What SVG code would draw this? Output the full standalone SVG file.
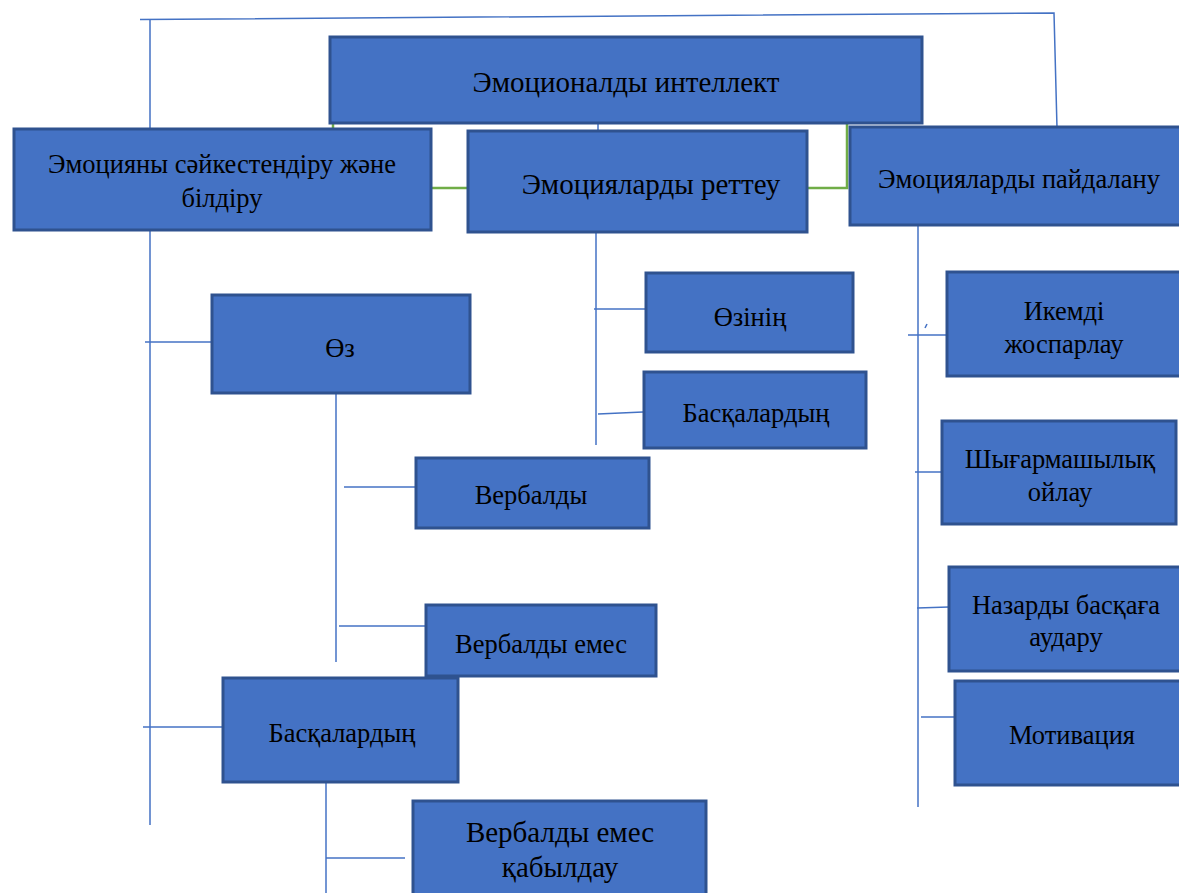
<svg xmlns="http://www.w3.org/2000/svg" width="1179" height="893" viewBox="0 0 1179 893">
<style>
.box{fill:#4472C4;stroke:#2F528F;stroke-width:3}
.t{font-family:"Liberation Serif","Times New Roman",serif;font-size:26.5px;fill:#000;text-anchor:middle;dominant-baseline:central}
.L{font-size:29px}
.c{fill:none;stroke:#4472C4;stroke-width:1.5}
.g{fill:none;stroke:#70AD47;stroke-width:2.5}
</style>
<rect width="1179" height="893" fill="#fff"/>
<g id="connectors">
<path class="c" d="M140 19.5 L1054 13 L1057 128"/>
<path class="c" d="M150 19 V128 M150 230 V825"/>
<path class="c" d="M598 123 V131"/>
<path class="g" d="M333 123 V128"/>
<path class="g" d="M431 188 H467"/>
<path class="g" d="M847 123 V188 H807"/>
<path class="c" d="M145 342 H212"/>
<path class="c" d="M336 393 V662"/>
<path class="c" d="M344 487 H416"/>
<path class="c" d="M339 626 H426"/>
<path class="c" d="M143 727 H223"/>
<path class="c" d="M326 782 V893"/>
<path class="c" d="M326 858 H405"/>
<path class="c" d="M596 232 V445"/>
<path class="c" d="M594 309 H645"/>
<path class="c" d="M598 414 L643 412"/>
<path class="c" d="M918 225 V807"/>
<path class="c" d="M908 335 H947"/>
<path class="c" d="M925 328 L927 324"/>
<path class="c" d="M915 472 H942"/>
<path class="c" d="M917 608 L949 607"/>
<path class="c" d="M921 717 H955"/>
</g>
<g id="main"><rect class="box" x="330" y="37" width="592" height="86"/><text class="t L" x="626" y="82">Эмоционалды интеллект</text></g>
<g id="n1"><rect class="box" x="14" y="129" width="417" height="101"/><text class="t" x="222" y="164">Эмоцияны сәйкестендіру және</text><text class="t" x="222" y="198">білдіру</text></g>
<g id="n2"><rect class="box" x="468" y="131" width="339" height="101"/><text class="t L" x="651" y="184">Эмоцияларды реттеу</text></g>
<g id="n3"><rect class="box" x="850" y="127" width="335" height="98"/><text class="t" x="1019" y="179">Эмоцияларды пайдалану</text></g>
<g id="oz"><rect class="box" x="212" y="295" width="258" height="98"/><text class="t" x="340" y="348">Өз</text></g>
<g id="verb"><rect class="box" x="416" y="458" width="233" height="70"/><text class="t" x="531" y="495">Вербалды</text></g>
<g id="verbemes"><rect class="box" x="426" y="605" width="230" height="71"/><text class="t" x="541" y="644">Вербалды емес</text></g>
<g id="baskl"><rect class="box" x="223" y="678" width="235" height="104"/><text class="t" x="342" y="733">Басқалардың</text></g>
<g id="verbkab"><rect class="box" x="413" y="801" width="293" height="100"/><text class="t L" x="560" y="832">Вербалды емес</text><text class="t L" x="560" y="867">қабылдау</text></g>
<g id="ozinin"><rect class="box" x="646" y="273" width="207" height="79"/><text class="t" x="750" y="317">Өзінің</text></g>
<g id="baskm"><rect class="box" x="644" y="372" width="222" height="76"/><text class="t" x="756" y="413">Басқалардың</text></g>
<g id="ikem"><rect class="box" x="947" y="272" width="240" height="104"/><text class="t" x="1064" y="311">Икемді</text><text class="t" x="1064" y="344">жоспарлау</text></g>
<g id="shyg"><rect class="box" x="942" y="421" width="234" height="103"/><text class="t" x="1060" y="459">Шығармашылық</text><text class="t" x="1060" y="492">ойлау</text></g>
<g id="naz"><rect class="box" x="949" y="567" width="238" height="104"/><text class="t" x="1066" y="605">Назарды басқаға</text><text class="t" x="1066" y="637">аудару</text></g>
<g id="mot"><rect class="box" x="955" y="681" width="232" height="104"/><text class="t" x="1072" y="735">Мотивация</text></g>
</svg>
